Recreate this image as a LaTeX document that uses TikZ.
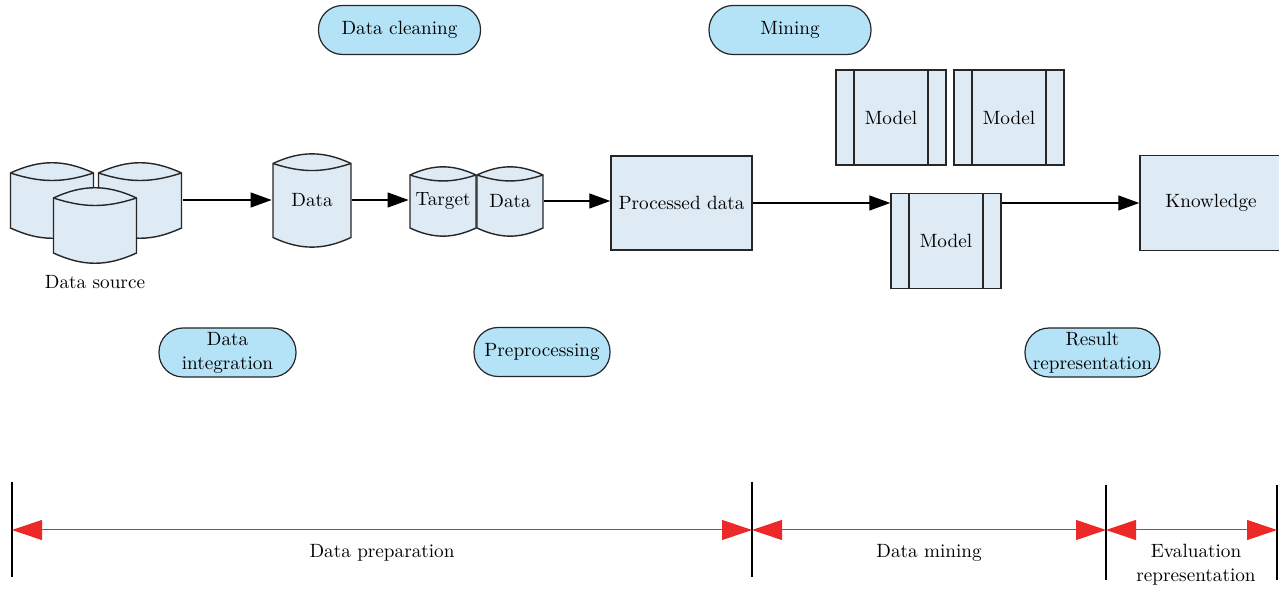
\documentclass[tikz,border=0pt]{standalone}
\usepackage{tikz}
\usetikzlibrary{shapes.geometric, arrows.meta, positioning}
\definecolor{boxblue}{RGB}{222,235,245}
\definecolor{pillblue}{RGB}{180,227,248}
\definecolor{spanred}{RGB}{236,40,40}
\tikzstyle{cyl} = [rectangle, minimum width=42.5pt, minimum height=39pt, inner sep=1pt,
  path picture={
    \path (path picture bounding box.north west) ++(0.5pt,-6pt) coordinate (cnw)
          (path picture bounding box.north east) ++(-0.5pt,-6pt) coordinate (cne)
          (path picture bounding box.south west) ++(0.5pt,5.5pt) coordinate (csw)
          (path picture bounding box.south east) ++(-0.5pt,5.5pt) coordinate (cse);
    \draw[draw=black!85, fill=boxblue, line width=0.7pt] (cnw) to[bend left=25] (cne) -- (cse) to[bend left=25] (csw) -- cycle;
    \draw[draw=black!85, line width=0.7pt] (cnw) to[bend right=18] (cne);}]
\tikzstyle{stage} = [rectangle, rounded corners=12pt, minimum width=81pt, minimum height=24.5pt, inner sep=1pt, align=center, draw=black!85, fill=pillblue, line width=0.6pt]
\tikzstyle{process} = [rectangle, minimum width=70.5pt, minimum height=47pt, draw=black!85, fill=boxblue, line width=0.7pt]
\tikzstyle{model} = [rectangle, minimum width=55pt, minimum height=47.5pt, draw=black!85, fill=boxblue, line width=0.7pt,
  path picture={\draw[line width=0.7pt] ([xshift=9pt]path picture bounding box.north west) -- ([xshift=9pt]path picture bounding box.south west);
                \draw[line width=0.7pt] ([xshift=-9pt]path picture bounding box.north east) -- ([xshift=-9pt]path picture bounding box.south east);}]
\tikzstyle{arrow} = [line width=0.6pt, -{Triangle[length=10.5pt, width=7.5pt]}]
\tikzstyle{span} = [line width=0.5pt, spanred, {Triangle[length=15pt, width=10pt]}-{Triangle[length=15pt, width=10pt]}]
\tikzstyle{tick} = [line width=0.6pt, black]

\begin{document}
\begin{tikzpicture}[x=0.5pt, y=-0.5pt, font=\fontsize{9.6}{12}\selectfont]
\useasboundingbox (0,0) rectangle (1279,592);

% data sources
\node (ds1) [cyl] at (52,200) {};
\node (ds2) [cyl] at (140,200) {};
\node (ds3) [cyl] at (95,225) {};
\node (dslabel) [below=2pt of ds3] {Data source};

\node (data) [cyl, minimum width=40pt, minimum height=48.5pt] at (312,200) {Data};
\node (target) [cyl, minimum width=34pt, minimum height=38pt] at (443,201) {Target};
\node (data2) [cyl, minimum width=34pt, minimum height=38pt, right of=target, node distance=33.5pt] {Data};
\node (proc) [process] at (681.5,203) {Processed data};

% models
\node (model1) [model] at (891,117.5) {Model};
\node (model2) [model] at (1009,117.5) {Model};
\node (model3) [model] at (946,241) {Model};
\node (know) [process, minimum width=71pt, minimum height=47.5pt] at (1211,203) {Knowledge};

% stages
\node (clean) [stage] at (399.5,30) {Data cleaning};
\node (mine) [stage] at (790,30) {Mining};
\node (integ) [stage, minimum width=68.5pt] at (227.5,352.5) {Data\\integration};
\node (prepro) [stage, minimum width=68pt] at (542,352) {Preprocessing};
\node (result) [stage, minimum width=67.5pt] at (1092.5,352.5) {Result\\representation};

\draw [arrow] (ds2.east) -- (ds2.east -| data.west);
\draw [arrow] (data.east) -- (data.east -| target.west);
\draw [arrow] (data2.east) -- (data2.east -| proc.west);
\draw [arrow] (proc.east) -- (proc.east -| model3.west);
\draw [arrow] (model3.east |- know.west) -- (know.west);

% phases
\coordinate (s0) at (12,530);
\coordinate (s1) at (752,530);
\coordinate (s2) at (1106,530);
\coordinate (s3) at (1277,530);
\draw [tick] ([yshift=24pt]s0) -- ([yshift=-23.5pt]s0);
\draw [tick] ([yshift=24pt]s1) -- ([yshift=-23.5pt]s1);
\draw [tick] ([yshift=22.5pt]s2) -- ([yshift=-25pt]s2);
\draw [tick] ([yshift=22.5pt]s3) -- ([yshift=-25pt]s3);
\draw [span] (s0) -- (s1);
\draw [span] (s1) -- (s2);
\draw [span] (s2) -- (s3);
\node (prep) at (382,553) {Data preparation};
\node (dmine) at (929,553) {Data mining};
\node (eval) [align=center] at (1196,565) {Evaluation\\representation};

\end{tikzpicture}
\end{document}
